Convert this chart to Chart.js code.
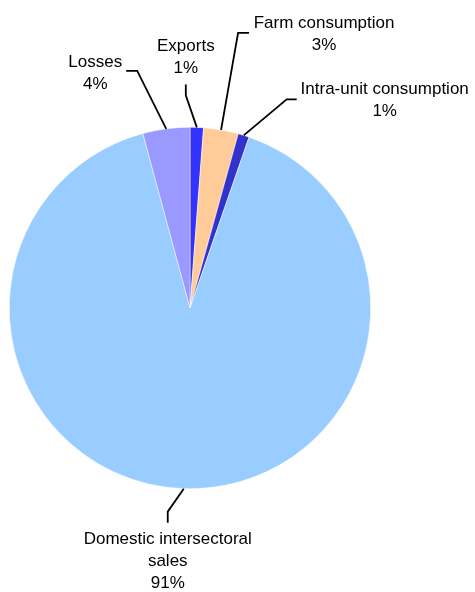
<!DOCTYPE html>
<html>
<head>
<meta charset="utf-8">
<script src="https://cdn.jsdelivr.net/npm/chart.js@4/dist/chart.umd.min.js"></script>
<style>
  html, body { margin: 0; padding: 0; background: #fff; }
  #wrap { width: 475px; height: 592px; }
</style>
</head>
<body>
<div id="wrap"><canvas id="chart" width="475" height="592"></canvas></div>
<script>
// slices, clockwise from 12 o'clock
const categories = ['Exports', 'Farm consumption', 'Intra-unit consumption', 'Domestic intersectoral sales', 'Losses'];
const shares = [1.2, 3.1, 1.0, 90.5, 4.2];
const sliceColors = ['#3333ff', '#ffcc99', '#3333cc', '#99ccff', '#9999ff'];

// label text lines (name may wrap)
const labelLines = [
  ['Exports'],
  ['Farm consumption'],
  ['Intra-unit consumption'],
  ['Domestic intersectoral', 'sales'],
  ['Losses']
];

// leader line layout: elbow offset from slice edge, tail offset from elbow, text offset from tail end
const leaders = [
  { elbow: [-11, -32], tail: [0, -11], text: [0, -38] },
  { elbow: [17, -97], tail: [11, 0], text: [75, -10] },
  { elbow: [43, -36], tail: [10, 0], text: [88, -10] },
  { elbow: [-16, 23], tail: [0, 11], text: [0, 17] },
  { elbow: [-29, -58], tail: [-11, 0], text: [-31, -9] }
];

const leaderLabels = {
  id: 'leaderLabels',
  afterDatasetsDraw(chart) {
    const ctx = chart.ctx;
    const meta = chart.getDatasetMeta(0);
    const vals = chart.data.datasets[0].data;
    const total = vals.reduce((a, b) => a + b, 0);
    ctx.save();
    ctx.strokeStyle = '#000';
    ctx.lineWidth = 1.8;
    ctx.fillStyle = '#000';
    ctx.font = '17px "Liberation Sans", Arial, sans-serif';
    ctx.textAlign = 'center';
    ctx.textBaseline = 'middle';
    meta.data.forEach((arc, i) => {
      const p = arc.getProps(['x', 'y', 'startAngle', 'endAngle', 'outerRadius'], true);
      const mid = (p.startAngle + p.endAngle) / 2;
      const ax = p.x + Math.cos(mid) * p.outerRadius;
      const ay = p.y + Math.sin(mid) * p.outerRadius;
      const L = leaders[i];
      const ex = ax + L.elbow[0], ey = ay + L.elbow[1];
      const tx = ex + L.tail[0], ty = ey + L.tail[1];
      ctx.beginPath();
      ctx.moveTo(ax, ay);
      ctx.lineTo(ex, ey);
      ctx.lineTo(tx, ty);
      ctx.stroke();
      const lines = labelLines[i].concat([Math.round(vals[i] / total * 100) + '%']);
      const cx = tx + L.text[0];
      let cy = ty + L.text[1];
      lines.forEach(s => { ctx.fillText(s, cx, cy); cy += 22; });
    });
    ctx.restore();
  }
};

new Chart(document.getElementById('chart'), {
  type: 'pie',
  data: {
    labels: categories,
    datasets: [{
      data: shares,
      backgroundColor: sliceColors,
      borderColor: '#ffffff',
      borderWidth: 0.5
    }]
  },
  options: {
    responsive: false,
    animation: false,
    layout: { padding: { left: 9, right: 104, top: 127, bottom: 103 } },
    plugins: {
      legend: { display: false },
      tooltip: { enabled: false }
    }
  },
  plugins: [leaderLabels]
});
</script>
</body>
</html>
